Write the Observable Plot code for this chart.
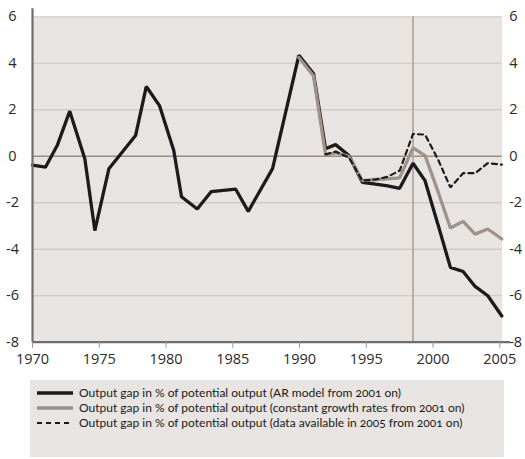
<!DOCTYPE html>
<html><head><meta charset="utf-8">
<script src="https://cdn.jsdelivr.net/npm/d3@7"></script>
<script src="https://cdn.jsdelivr.net/npm/@observablehq/plot@0.6"></script>
<style>
body{margin:0;background:#fff;width:525px;height:459px;position:relative;overflow:hidden}
#chart{position:absolute;left:0;top:0}
#legend{position:absolute;left:30px;top:380px;width:474px;height:77px;background:#e8e4e1;font-family:Lato,"Liberation Sans Narrow",sans-serif;font-size:12px;color:#1a1a1a;font-variant-numeric:oldstyle-nums}
.row{position:absolute;left:7px;height:15px;display:flex;align-items:center;white-space:nowrap}
.row svg{margin-right:6px}
</style>
</head><body>
<div id="chart"></div>
<div id="legend"></div>
<script>
// AR model series (black)
const arYears = [1970, 1970.97, 1971.85, 1972.79, 1973.92, 1974.67, 1975.72, 1977.72, 1978.52, 1979.51, 1980.58, 1981.16, 1982.34, 1983.39, 1985.21, 1986.16, 1987.98, 1989.95, 1991.05, 1991.95, 1992.7, 1993.7, 1994.7, 1995.7, 1996.6, 1997.5, 1998.5, 1999.4, 2000.35, 2001.3, 2002.25, 2003.15, 2004.1, 2005.15];
const arValues = [-0.38, -0.47, 0.46, 1.94, -0.11, -3.20, -0.54, 0.89, 3.0, 2.18, 0.25, -1.74, -2.27, -1.52, -1.41, -2.37, -0.53, 4.34, 3.55, 0.32, 0.50, 0.03, -1.12, -1.2, -1.27, -1.38, -0.30, -1.05, -2.9, -4.78, -4.96, -5.6, -6.0, -6.87];
// constant growth series (gray)
const cgYears = [1989.95, 1991.05, 1991.95, 1992.7, 1993.7, 1994.7, 1995.7, 1996.6, 1997.5, 1998.5, 1999.4, 2000.35, 2001.3, 2002.25, 2003.15, 2004.1, 2005.15];
const cgValues = [4.25, 3.45, 0.05, 0.15, 0.0, -1.05, -1.0, -0.97, -0.93, 0.36, 0.03, -1.48, -3.09, -2.8, -3.35, -3.13, -3.56];
// data available in 2005 series (dashed)
const daYears = [1991.95, 1992.7, 1993.7, 1994.7, 1995.7, 1996.6, 1997.5, 1998.5, 1999.4, 2000.35, 2001.3, 2002.25, 2003.15, 2004.1, 2005.15];
const daValues = [0.08, 0.2, -0.05, -1.05, -1.0, -0.88, -0.62, 0.96, 0.93, -0.11, -1.34, -0.73, -0.73, -0.30, -0.36];

const xTicks = [1970, 1975, 1980, 1985, 1990, 1995, 2000, 2005];
const yTicks = [6, 4, 2, 0, -2, -4, -6, -8];
const yTickLabels = ["6", "4", "2", "0", "-2", "-4", "-6", "-8"];
const markerYear = [1998.5];
const legendLabels = [
  "Output gap in % of potential output (AR model from 2001 on)",
  "Output gap in % of potential output (constant growth rates from 2001 on)",
  "Output gap in % of potential output (data available in 2005 from 2001 on)"
];

const toRows = (xs, ys) => xs.map((x, i) => ({x, y: ys[i]}));
const ar = toRows(arYears, arValues);
const cg = toRows(cgYears, cgValues);
const da = toRows(daYears, daValues);
const yt = yTicks.map((v, i) => ({v, label: yTickLabels[i]}));

const tickFont = "'Liberation Sans Narrow','Open Sans',sans-serif";

const chart = Plot.plot({
  width: 525, height: 372,
  marginLeft: 32, marginRight: 23.3, marginTop: 16.3, marginBottom: 30.3,
  x: {domain: [1970, 2005.18]},
  y: {domain: [-8, 6], axis: null},
  style: {fontFamily: tickFont, fontSize: "14.5px", color: "#2a2a2a", background: "transparent", overflow: "visible"},
  marks: [
    Plot.frame({fill: "#e8e4e1", stroke: null}),
    Plot.ruleY(yTicks.filter(d => d !== 0 && d !== -8), {stroke: "#d2cbc6", strokeWidth: 1.3}),
    Plot.ruleY([0], {stroke: "#a08b81", strokeWidth: 1.3}),
    Plot.ruleX(markerYear, {stroke: "#aca29b", strokeWidth: 1.6}),
    Plot.line(ar, {x: "x", y: "y", stroke: "#1c1a1a", strokeWidth: 3.3, strokeLinejoin: "miter"}),
    Plot.line(cg, {x: "x", y: "y", stroke: "#9e928b", strokeWidth: 3.3, strokeLinejoin: "miter"}),
    Plot.line(da, {x: "x", y: "y", stroke: "#1c1a1a", strokeWidth: 2.2, strokeDasharray: "5,4", strokeLinejoin: "miter"}),
    Plot.ruleX([1970], {y1: -8, y2: 6.35, stroke: "#6e6e6e", strokeWidth: 2.2}),
    Plot.ruleY([-8], {x1: 1970, x2: 2005.8, stroke: "#6e6e6e", strokeWidth: 2.2}),
    Plot.axisX({ticks: xTicks, tickSize: 6, tickPadding: 6, tickFormat: d => String(d), stroke: "#a0968f", label: null}),
    Plot.text(yt, {y: "v", text: "label", frameAnchor: "left", dx: -20, textAnchor: "middle"}),
    Plot.text(yt, {y: "v", text: "label", frameAnchor: "right", dx: 7, textAnchor: "start"})
  ]
});
document.getElementById("chart").appendChild(chart);

const legend = document.getElementById("legend");
const styles = [
  {stroke: "#1c1a1a", width: 3.3, dash: null},
  {stroke: "#9e928b", width: 3.3, dash: null},
  {stroke: "#1c1a1a", width: 2.2, dash: "5,4"}
];
legendLabels.forEach((lab, i) => {
  const row = document.createElement("div");
  row.className = "row";
  row.style.top = (5 + i * 15) + "px";
  const s = styles[i];
  row.innerHTML = `<svg width="36" height="8"><line x1="0" x2="36" y1="4" y2="4" stroke="${s.stroke}" stroke-width="${s.width}" ${s.dash ? `stroke-dasharray="${s.dash}"` : ""}/></svg><span>${lab}</span>`;
  legend.appendChild(row);
});
</script>
</body></html>
